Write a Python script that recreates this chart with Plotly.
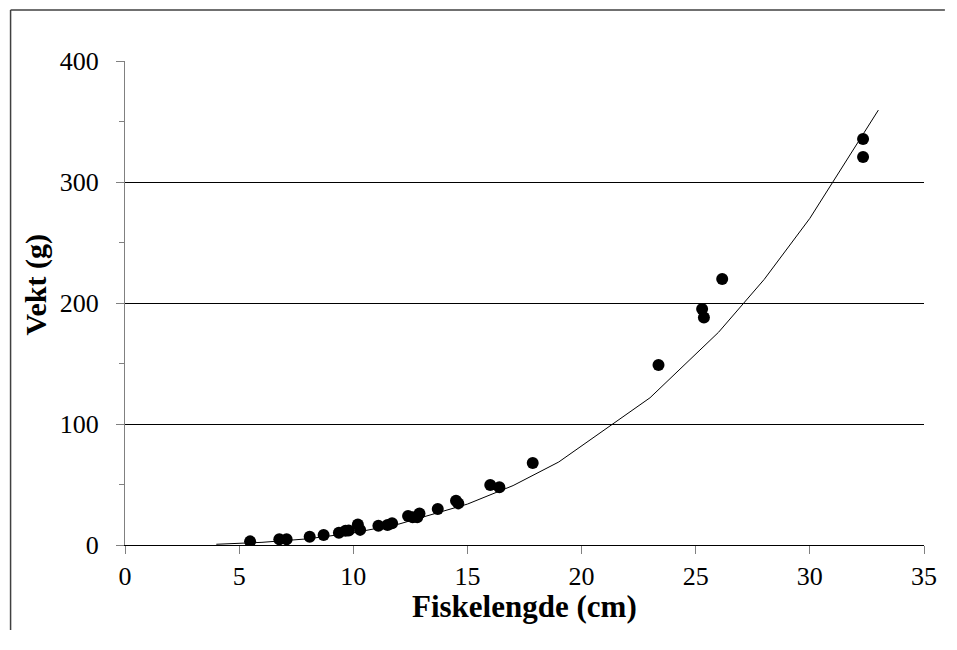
import plotly.graph_objects as go

# Observed fish: length (cm) and weight (g)
length_cm = [5.48, 6.76, 7.08, 8.09, 8.7, 9.37, 9.66, 9.8, 10.2, 10.3, 11.1, 11.5, 11.7,
             12.4, 12.6, 12.8, 12.9, 13.7, 14.5, 14.6, 16.0, 16.4, 17.86,
             23.37, 25.28, 25.36, 26.16, 32.33, 32.33]
weight_g = [3.0, 4.7, 4.7, 6.9, 8.3, 10.2, 11.8, 12.0, 17.0, 12.5, 16.0, 16.5, 18.0,
            24.0, 23.0, 23.0, 26.0, 29.7, 36.6, 34.4, 49.6, 47.7, 67.8,
            148.8, 195.0, 188.0, 219.8, 335.5, 320.7]

# Fitted curve
fit_len = [4, 6, 8, 10, 12, 15, 17, 19, 23, 26, 28, 30, 33]
fit_wt = [0.6, 2.2, 5.1, 10.0, 17.3, 33.8, 49.1, 68.6, 121.7, 175.8, 219.5, 270.0, 359.4]

x_ticks = [0, 5, 10, 15, 20, 25, 30, 35]
y_ticks = [0, 100, 200, 300, 400]

FONT = "Liberation Serif, Times New Roman, serif"
OFF = 8  # page body margin
W, H = 957 - 2 * OFF, 622
PLOT_L, PLOT_R, PLOT_T, PLOT_B = 125, 928, 61, 545  # reference screen pixels
L, T = PLOT_L - OFF, PLOT_T - OFF
R = W - (PLOT_R - OFF)
B = H - (PLOT_B - OFF)
pw, ph = W - L - R, H - T - B

fig = go.Figure()
fig.add_trace(go.Scatter(x=fit_len, y=fit_wt, mode="lines",
                         line=dict(color="black", width=1), showlegend=False,
                         hoverinfo="skip"))
fig.add_trace(go.Scatter(x=length_cm, y=weight_g, mode="markers",
                         marker=dict(color="black", size=12, line=dict(width=0)),
                         showlegend=False))

def px_x(p):
    # p is a screen pixel in the reference
    return (p - OFF - L) / pw

def px_y(p):
    return (H - B - (p - OFF)) / ph

fig.update_layout(
    width=W, height=H,
    margin=dict(l=L, r=R, t=T, b=B),
    paper_bgcolor="white", plot_bgcolor="white",
    font=dict(family=FONT, size=26, color="black"),
    xaxis=dict(range=[0, 35], tickvals=x_ticks, ticktext=[str(v) for v in x_ticks],
               showgrid=False, zeroline=False, showline=True, linecolor="black",
               linewidth=1, ticks="outside", ticklen=8, tickcolor="#808080",
               tickwidth=1, tickfont=dict(family=FONT, size=26), fixedrange=True),
    yaxis=dict(range=[0, 400], tickvals=y_ticks, ticktext=[str(v) for v in y_ticks],
               showgrid=True, gridcolor="black", gridwidth=1, zeroline=False,
               showline=True, linecolor="#808080", linewidth=1,
               ticks="outside", ticklen=8, tickcolor="#808080", tickwidth=1,
               ticklabelstandoff=12,
               minor=dict(ticks="outside", ticklen=5, dtick=50, tickcolor="#808080",
                          showgrid=False),
               tickfont=dict(family=FONT, size=26), fixedrange=True),
    annotations=[
        dict(text="<b>Fiskelengde (cm)</b>", xref="paper", yref="paper",
             x=0.5, y=px_y(606), xanchor="center", yanchor="middle",
             showarrow=False, font=dict(family=FONT, size=31)),
        dict(text="<b>Vekt (g)</b>", xref="paper", yref="paper",
             x=px_x(36), y=px_y(285), xanchor="center", yanchor="middle",
             textangle=-90, showarrow=False, font=dict(family=FONT, size=30)),
    ],
    shapes=[
        dict(type="line", xref="paper", yref="paper",
             x0=px_x(10), x1=px_x(10), y0=px_y(H + OFF), y1=px_y(10),
             line=dict(color="#404040", width=1.5)),
        dict(type="line", xref="paper", yref="paper",
             x0=px_x(10), x1=px_x(W + OFF), y0=px_y(10), y1=px_y(10),
             line=dict(color="#404040", width=1.5)),
    ],
)

fig.write_html("out.html")
